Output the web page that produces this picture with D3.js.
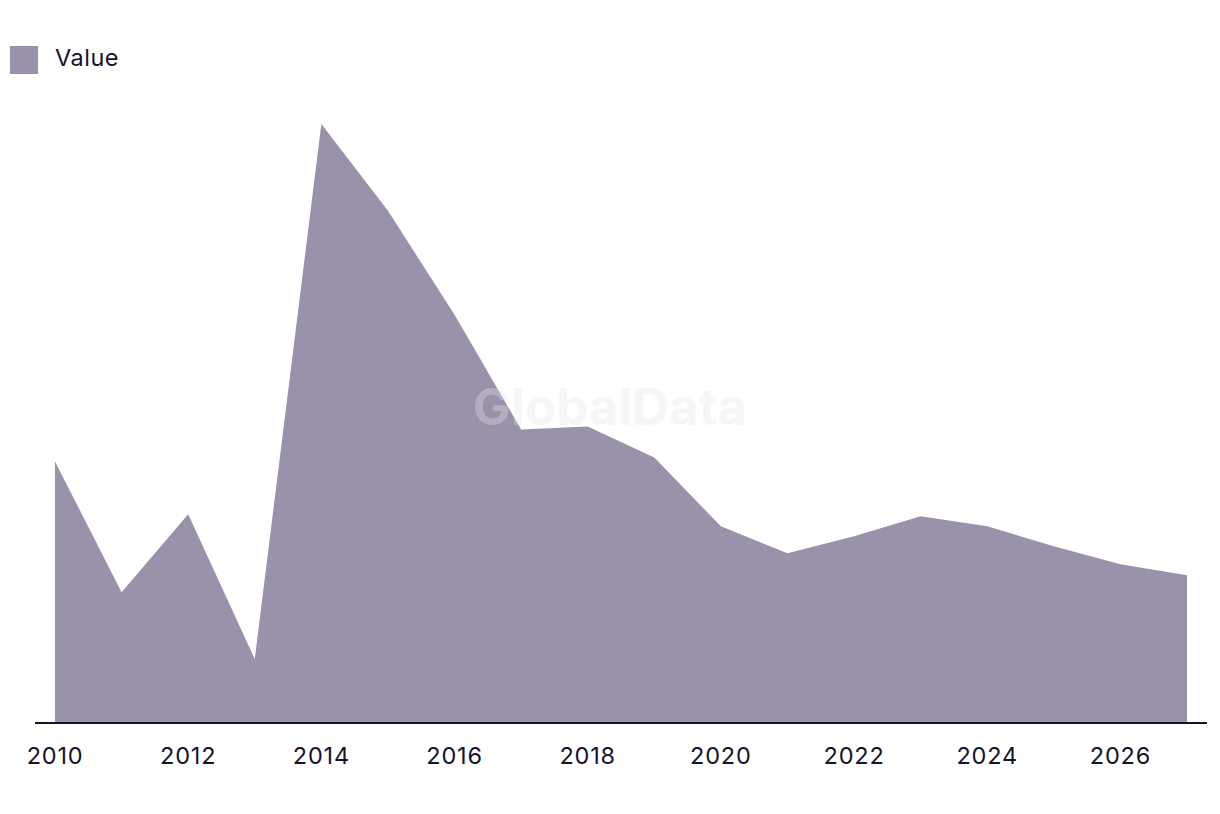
<!DOCTYPE html>
<html>
<head>
<meta charset="utf-8">
<script src="https://cdn.jsdelivr.net/npm/d3@7"></script>
<style>
  body { margin:0; background:#fff; }
  text { font-family: "Inter", "Roboto", sans-serif; }
</style>
</head>
<body>
<div id="canvas"></div>
<script>
// data
var years = [2010,2011,2012,2013,2014,2015,2016,2017,2018,2019,2020,2021,2022,2023,2024,2025,2026,2027];
var values = [2.62,1.31,2.09,0.64,6.00,5.13,4.09,2.94,2.97,2.66,1.97,1.70,1.87,2.07,1.97,1.77,1.59,1.48];
var tickYears = [2010,2012,2014,2016,2018,2020,2022,2024,2026];
var seriesName = 'Value';

var W = 1220, H = 814;
var svg = d3.select('#canvas').append('svg')
    .attr('width', W)
    .attr('height', H);

var x = d3.scaleLinear().domain([2010, 2027]).range([55, 1187]);
var y = d3.scaleLinear().domain([0, 6]).range([723, 124]);

var rows = years.map(function(yr, i){ return {year: yr, value: values[i]}; });

var area = d3.area()
    .x(function(d){ return x(d.year); })
    .y0(y(0))
    .y1(function(d){ return y(d.value); });

svg.append('path')
    .datum(rows)
    .attr('d', area)
    .style('fill', '#9a91aa');

// watermark, sits on top but very faint
svg.append('text')
    .attr('x', 610).attr('y', 425)
    .attr('text-anchor', 'middle')
    .style('font-size', '51px')
    .style('font-weight', 'bold')
    .style('fill', '#e6e3ea')
    .style('fill-opacity', 0.35)
    .text('GlobalData');

// x axis
svg.append('line')
    .attr('x1', 35).attr('x2', 1207)
    .attr('y1', 723).attr('y2', 723)
    .style('stroke', '#14142b')
    .style('stroke-width', 2);

svg.selectAll('.tick-label')
    .data(tickYears)
    .enter().append('text')
    .attr('class', 'tick-label')
    .attr('x', function(d){ return x(d); })
    .attr('y', 764)
    .attr('text-anchor', 'middle')
    .style('font-size', '23.5px')
    .style('letter-spacing', '0.8px')
    .style('fill', '#14142b')
    .text(function(d){ return d; });

// legend
svg.append('rect')
    .attr('x', 10).attr('y', 46)
    .attr('width', 28).attr('height', 28)
    .style('fill', '#9a91aa');
svg.append('text')
    .attr('x', 55).attr('y', 66)
    .style('font-size', '23.5px')
    .style('letter-spacing', '0.5px')
    .style('fill', '#14142b')
    .text(seriesName);
</script>
</body>
</html>
